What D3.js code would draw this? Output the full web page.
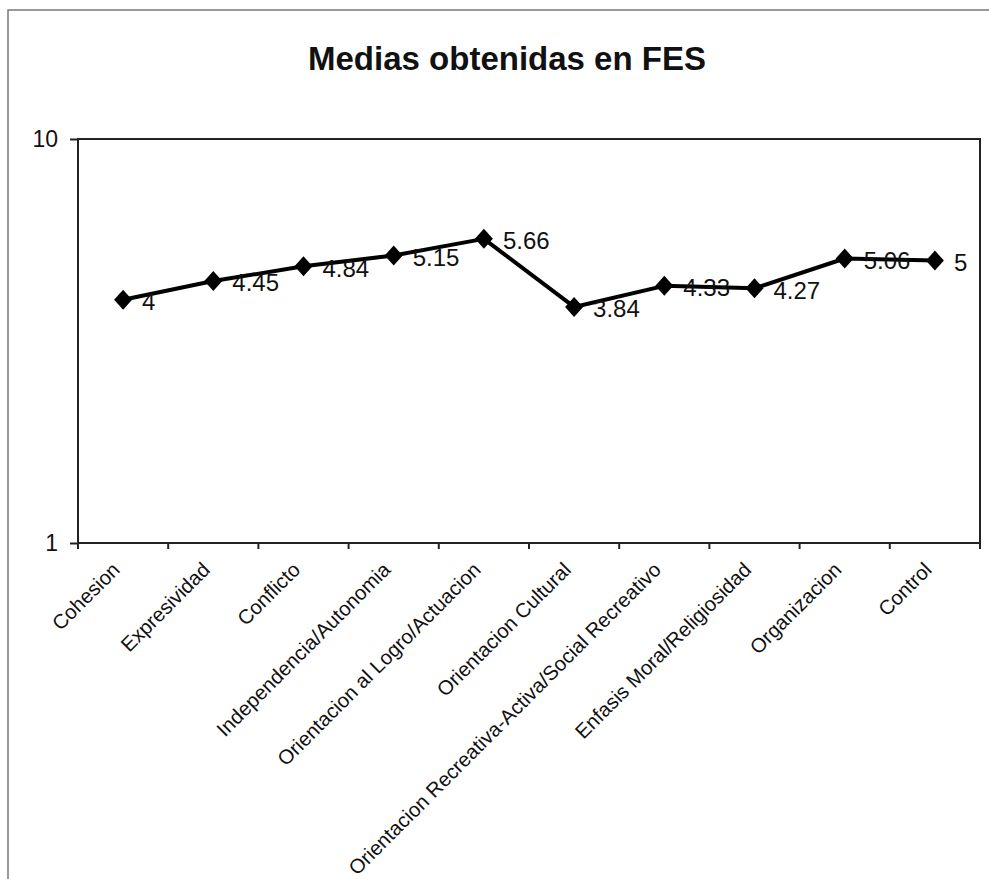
<!DOCTYPE html>
<html>
<head>
<meta charset="utf-8">
<script src="https://cdn.jsdelivr.net/npm/d3@7/dist/d3.min.js"></script>
<style>
  html, body { margin: 0; padding: 0; background: #fff; }
  svg { display: block; font-family: "Liberation Sans", Arial, Helvetica, sans-serif; }
</style>
</head>
<body>
<svg id="chart" width="989" height="879"></svg>
<script>
// FES subscale means
const categories = [
  "Cohesion",
  "Expresividad",
  "Conflicto",
  "Independencia/Autonomia",
  "Orientacion al Logro/Actuacion",
  "Orientacion Cultural",
  "Orientacion Recreativa-Activa/Social Recreativo",
  "Enfasis Moral/Religiosidad",
  "Organizacion",
  "Control"
];
const values = [4, 4.45, 4.84, 5.15, 5.66, 3.84, 4.33, 4.27, 5.06, 5];
const valueLabels = ["4", "4.45", "4.84", "5.15", "5.66", "3.84", "4.33", "4.27", "5.06", "5"];
const yTicks = [1, 10];
const title = "Medias obtenidas en FES";

const svg = d3.select("#chart");
const W = 989, H = 879;
const plot = { left: 78, right: 980, top: 139, bottom: 543 };

// outer frame (left and top edges visible)
svg.append("path")
  .attr("d", `M8,${H} L8,10 L${W},10`)
  .attr("fill", "none")
  .attr("stroke", "#777")
  .attr("stroke-width", 1.5);

// title
svg.append("text")
  .attr("x", 507).attr("y", 70)
  .attr("text-anchor", "middle")
  .attr("font-size", 33)
  .attr("font-weight", "bold")
  .attr("fill", "#111")
  .text(title);

const x = d3.scaleBand().domain(categories).range([plot.left, plot.right]).padding(0);
const y = d3.scaleLog().domain([1, 10]).range([plot.bottom, plot.top]);

// plot area box
svg.append("rect")
  .attr("x", plot.left).attr("y", plot.top)
  .attr("width", plot.right - plot.left).attr("height", plot.bottom - plot.top)
  .attr("fill", "#fff")
  .attr("stroke", "#222")
  .attr("stroke-width", 2);

// y axis
const yAxis = svg.append("g")
  .attr("transform", `translate(${plot.left},0)`)
  .call(d3.axisLeft(y).tickValues(yTicks).tickFormat(d3.format("d")).tickSize(8).tickPadding(12));
yAxis.select(".domain").remove();
yAxis.selectAll(".tick line").attr("stroke", "#222").attr("stroke-width", 2);
yAxis.selectAll(".tick text")
  .attr("font-size", 23)
  .attr("fill", "#111")
  .attr("font-family", "'Liberation Sans', Arial, sans-serif");

// x tick marks at category boundaries
const bounds = categories.map(c => x(c)).concat([plot.right]);
svg.append("g").selectAll("line")
  .data(bounds)
  .join("line")
  .attr("x1", d => d).attr("x2", d => d)
  .attr("y1", plot.bottom).attr("y2", plot.bottom + 6)
  .attr("stroke", "#222").attr("stroke-width", 2);

// category labels, rotated
svg.append("g").selectAll("text")
  .data(categories)
  .join("text")
  .attr("transform", d => `translate(${x(d) + x.bandwidth() / 2 - 2},${plot.bottom + 28}) rotate(-45)`)
  .attr("text-anchor", "end")
  .attr("font-size", 20.3)
  .attr("fill", "#111")
  .text(d => d);

// series line
const cx = d => x(d) + x.bandwidth() / 2;
const pts = categories.map((c, i) => [cx(c), y(values[i])]);
svg.append("path")
  .attr("d", d3.line()(pts))
  .attr("fill", "none")
  .attr("stroke", "#000")
  .attr("stroke-width", 4)
  .attr("stroke-linejoin", "round");

// diamond markers
const r = 10;
svg.append("g").selectAll("path")
  .data(pts)
  .join("path")
  .attr("d", p => `M${p[0]},${p[1] - r} L${p[0] + r * 0.9},${p[1]} L${p[0]},${p[1] + r} L${p[0] - r * 0.9},${p[1]} Z`)
  .attr("fill", "#000");

// value labels
svg.append("g").selectAll("text")
  .data(pts)
  .join("text")
  .attr("x", p => p[0] + 19)
  .attr("y", p => p[1] + 2)
  .attr("dy", "0.35em")
  .attr("font-size", 24)
  .attr("fill", "#111")
  .text((p, i) => valueLabels[i]);
</script>
</body>
</html>
